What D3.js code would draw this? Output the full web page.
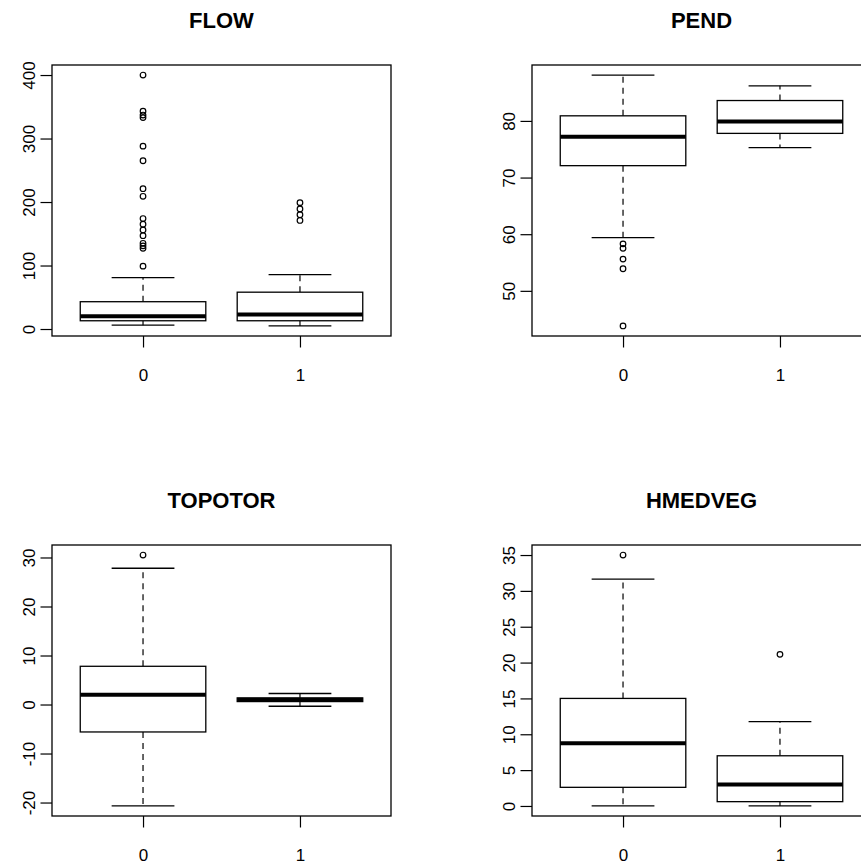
<!DOCTYPE html>
<html>
<head>
<meta charset="utf-8">
<script src="https://cdn.jsdelivr.net/npm/d3@7"></script>
<style>
    body { margin: 0; background: #fff; }
    svg { display: block; font-family: "Liberation Sans", Arial, sans-serif; }
</style>
</head>
<body>
<svg width="861" height="865"></svg>
<script>
// groups on the x axis
const groups = ["0", "1"];

// box stats per group: [lower whisker, Q1, median, Q3, upper whisker]
const flowStats = [[6, 13, 20, 43, 81], [4.8, 13, 23, 58, 85.5]];
const flowOutliers = [
    [400, 343, 337, 333, 288, 265, 221, 209, 174, 165, 156, 147, 135, 131, 127, 99],
    [199, 189, 180, 171]
];
const flowTicks = [0, 100, 200, 300, 400];

const pendStats = [[59.4, 72.1, 77.2, 80.9, 88.1], [75.3, 77.8, 79.9, 83.6, 86.2]];
const pendOutliers = [[58.3, 57.5, 55.6, 53.9, 43.8], []];
const pendTicks = [50, 60, 70, 80];

const topoStats = [[-20.7, -5.6, 2.0, 7.8, 27.8], [-0.35, 0.6, 0.95, 1.35, 2.25]];
const topoOutliers = [[30.5], []];
const topoTicks = [-20, -10, 0, 10, 20, 30];

const hmedStats = [[0, 2.6, 8.75, 15.0, 31.65], [0, 0.6, 3.0, 7.0, 11.75]];
const hmedOutliers = [[35.0], [21.15]];
const hmedTicks = [0, 5, 10, 15, 20, 25, 30, 35];

const panels = [
    {title: "FLOW", stats: flowStats, outliers: flowOutliers, ticks: flowTicks, ox: 0, oy: 0},
    {title: "PEND", stats: pendStats, outliers: pendOutliers, ticks: pendTicks, ox: 480, oy: 0},
    {title: "TOPOTOR", stats: topoStats, outliers: topoOutliers, ticks: topoTicks, ox: 0, oy: 480},
    {title: "HMEDVEG", stats: hmedStats, outliers: hmedOutliers, ticks: hmedTicks, ox: 480, oy: 480}
];

const svg = d3.select("svg"),
    margin = {top: 65, left: 52},
    width = 339,
    height = 271,
    tickLen = 11.5;

svg.append("rect").attr("width", 861).attr("height", 865).attr("fill", "#fff");

function drawPanel(p) {
    const g = svg.append("g")
        .attr("transform", "translate(" + (p.ox + margin.left) + "," + (p.oy + margin.top) + ")");

    // R style: 4% padding on each side of the data range
    const all = d3.merge(p.stats.concat(p.outliers));
    const lo = d3.min(all), hi = d3.max(all), pad = (hi - lo) * 0.04;

    const x = d3.scaleLinear().domain([0.42, 2.58]).range([0, width]);
    const y = d3.scaleLinear().domain([lo - pad, hi + pad]).range([height, 0]);

    // y axis (plain hyphen for negatives, like R)
    const ya = g.append("g")
        .call(d3.axisLeft(y).tickValues(p.ticks).tickSize(tickLen).tickFormat(function(d) { return String(d); }));
    ya.select(".domain").remove();
    ya.selectAll("line").attr("stroke", "#000").attr("stroke-width", 1.2);
    ya.selectAll("text")
        .attr("transform", "rotate(-90)")
        .attr("x", 0)
        .attr("y", -17.5)
        .attr("dy", 0)
        .attr("text-anchor", "middle")
        .attr("fill", "#000")
        .style("font-size", "17px")
        .style("font-family", "'Liberation Sans', Arial, sans-serif");

    // x axis
    const xa = g.append("g")
        .attr("transform", "translate(0," + height + ")")
        .call(d3.axisBottom(x).tickValues([1, 2]).tickSize(tickLen)
            .tickFormat(function(d) { return groups[d - 1]; }));
    xa.select(".domain").remove();
    xa.selectAll("line").attr("stroke", "#000").attr("stroke-width", 1.2);
    xa.selectAll("text")
        .attr("y", 45)
        .attr("dy", 0)
        .attr("fill", "#000")
        .style("font-size", "17px")
        .style("font-family", "'Liberation Sans', Arial, sans-serif");

    // boxes
    const box = g.selectAll(".box")
        .data(p.stats)
        .enter().append("g")
        .attr("class", "box");

    box.append("line")   // upper whisker
        .attr("x1", function(d, i) { return x(i + 1); })
        .attr("x2", function(d, i) { return x(i + 1); })
        .attr("y1", function(d) { return y(d[3]); })
        .attr("y2", function(d) { return y(d[4]); })
        .attr("stroke", "#000").attr("stroke-width", 1.2).attr("stroke-dasharray", "6,5");
    box.append("line")   // lower whisker
        .attr("x1", function(d, i) { return x(i + 1); })
        .attr("x2", function(d, i) { return x(i + 1); })
        .attr("y1", function(d) { return y(d[1]); })
        .attr("y2", function(d) { return y(d[0]); })
        .attr("stroke", "#000").attr("stroke-width", 1.2).attr("stroke-dasharray", "6,5");

    [0, 4].forEach(function(k) {
        box.append("line")   // whisker caps
            .attr("x1", function(d, i) { return x(i + 0.8); })
            .attr("x2", function(d, i) { return x(i + 1.2); })
            .attr("y1", function(d) { return y(d[k]); })
            .attr("y2", function(d) { return y(d[k]); })
            .attr("stroke", "#000").attr("stroke-width", 1.3);
    });

    box.append("rect")
        .attr("x", function(d, i) { return x(i + 0.6); })
        .attr("width", x(1.4) - x(0.6))
        .attr("y", function(d) { return y(d[3]); })
        .attr("height", function(d) { return y(d[1]) - y(d[3]); })
        .attr("fill", "#fff").attr("stroke", "#000").attr("stroke-width", 1.3);

    box.append("line")   // median
        .attr("x1", function(d, i) { return x(i + 0.6); })
        .attr("x2", function(d, i) { return x(i + 1.4); })
        .attr("y1", function(d) { return y(d[2]); })
        .attr("y2", function(d) { return y(d[2]); })
        .attr("stroke", "#000").attr("stroke-width", 4);

    // outliers
    p.outliers.forEach(function(vals, i) {
        g.selectAll(".out" + i)
            .data(vals)
            .enter().append("circle")
            .attr("cx", x(i + 1))
            .attr("cy", function(d) { return y(d); })
            .attr("r", 2.8)
            .attr("fill", "none").attr("stroke", "#000").attr("stroke-width", 1.2);
    });

    // frame
    g.append("rect")
        .attr("width", width).attr("height", height)
        .attr("fill", "none").attr("stroke", "#000").attr("stroke-width", 1.3);

    g.append("text")
        .attr("x", width / 2)
        .attr("y", -36.7)
        .attr("text-anchor", "middle")
        .style("font-size", "22px")
        .style("font-weight", "bold")
        .text(p.title);
}

panels.forEach(drawPanel);
</script>
</body>
</html>
